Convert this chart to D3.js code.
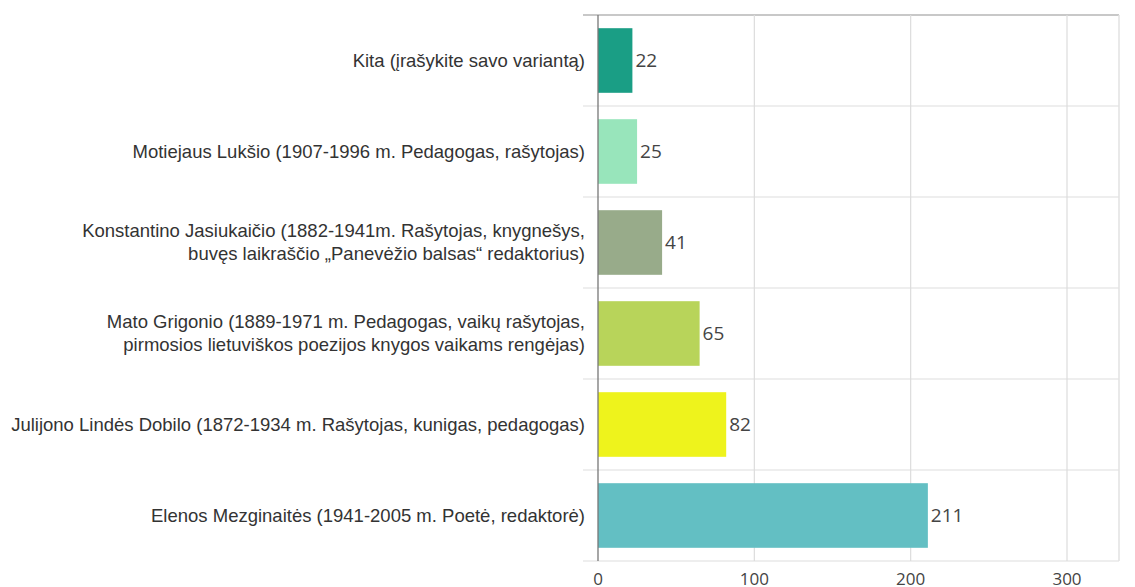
<!DOCTYPE html>
<html>
<head>
<meta charset="utf-8">
<script src="https://cdn.jsdelivr.net/npm/d3@7"></script>
<style>
  body { margin: 0; background: #fff; }
  svg { display: block; }
</style>
</head>
<body>
<svg width="1135" height="587"></svg>
<script>
// categories top to bottom
var labels = [
    ["Kita (įrašykite savo variantą)"],
    ["Motiejaus Lukšio (1907-1996 m. Pedagogas, rašytojas)"],
    ["Konstantino Jasiukaičio (1882-1941m. Rašytojas, knygnešys,", "buvęs laikraščio „Panevėžio balsas“ redaktorius)"],
    ["Mato Grigonio (1889-1971 m. Pedagogas, vaikų rašytojas,", "pirmosios lietuviškos poezijos knygos vaikams rengėjas)"],
    ["Julijono Lindės Dobilo (1872-1934 m. Rašytojas, kunigas, pedagogas)"],
    ["Elenos Mezginaitės (1941-2005 m. Poetė, redaktorė)"]
];
var values = [22, 25, 41, 65, 82, 211];
var colors = ["#1a9e85", "#98e5bb", "#98ab8a", "#b8d45a", "#eef31c", "#63bfc3"];
var ticks = [0, 100, 200, 300];

var svg = d3.select("svg");

var x = d3.scaleLinear().domain([0, 300]).range([598, 1067]);
var y = d3.scaleBand().domain(d3.range(values.length)).range([15, 561]).paddingInner(0.29).paddingOuter(0.145);

var bandStep = y.step();

// frame + grid
var grid = svg.append("g");
grid.selectAll(".hgrid")
    .data(d3.range(values.length + 1))
    .enter().append("line")
    .attr("x1", 583).attr("x2", 1119)
    .attr("y1", function (d) { return 15 + d * bandStep; })
    .attr("y2", function (d) { return 15 + d * bandStep; })
    .attr("stroke", function (d) { return d === 0 ? "#c8c8c8" : "#e8e8e8"; })
    .attr("stroke-width", function (d) { return d === 0 ? 2 : 1.5; });

grid.selectAll(".vgrid")
    .data(ticks.slice(1))
    .enter().append("line")
    .attr("x1", function (d) { return x(d); })
    .attr("x2", function (d) { return x(d); })
    .attr("y1", 15).attr("y2", 561)
    .attr("stroke", "#dcdcdc").attr("stroke-width", 1.2);

grid.append("line")
    .attr("x1", 1119).attr("x2", 1119).attr("y1", 15).attr("y2", 561)
    .attr("stroke", "#e2e2e2").attr("stroke-width", 1.5);

// bars
svg.append("g").selectAll("rect")
    .data(values)
    .enter().append("rect")
    .attr("x", x(0))
    .attr("y", function (d, i) { return y(i); })
    .attr("width", function (d) { return x(d) - x(0); })
    .attr("height", y.bandwidth())
    .attr("fill", function (d, i) { return colors[i]; });

// axis line
svg.append("line")
    .attr("x1", x(0)).attr("x2", x(0)).attr("y1", 15).attr("y2", 561)
    .attr("stroke", "#777").attr("stroke-width", 1.3);

// value labels
svg.append("g").selectAll("text")
    .data(values)
    .enter().append("text")
    .attr("x", function (d) { return x(d) + 3; })
    .attr("y", function (d, i) { return y(i) + y.bandwidth() / 2; })
    .attr("dy", "0.36em")
    .attr("font-family", "Open Sans, sans-serif")
    .attr("font-size", 19)
    .attr("fill", "#444")
    .text(function (d) { return d; });

// category labels
var cat = svg.append("g").selectAll("text")
    .data(labels)
    .enter().append("text")
    .attr("text-anchor", "end")
    .attr("font-family", "Liberation Sans, Arial, sans-serif")
    .attr("font-size", 18.5)
    .attr("fill", "#333")
    .attr("y", function (d, i) { return y(i) + y.bandwidth() / 2 - (d.length - 1) * 11.5; });

cat.selectAll("tspan")
    .data(function (d) { return d; })
    .enter().append("tspan")
    .attr("x", 585)
    .attr("dy", function (d, i) { return i === 0 ? "0.35em" : 23; })
    .text(function (d) { return d; });

// x axis tick labels
svg.append("g").selectAll("text")
    .data(ticks)
    .enter().append("text")
    .attr("x", function (d) { return x(d); })
    .attr("y", 585)
    .attr("text-anchor", "middle")
    .attr("font-family", "Open Sans, sans-serif")
    .attr("font-size", 17)
    .attr("fill", "#444")
    .text(function (d) { return d; });
</script>
</body>
</html>
